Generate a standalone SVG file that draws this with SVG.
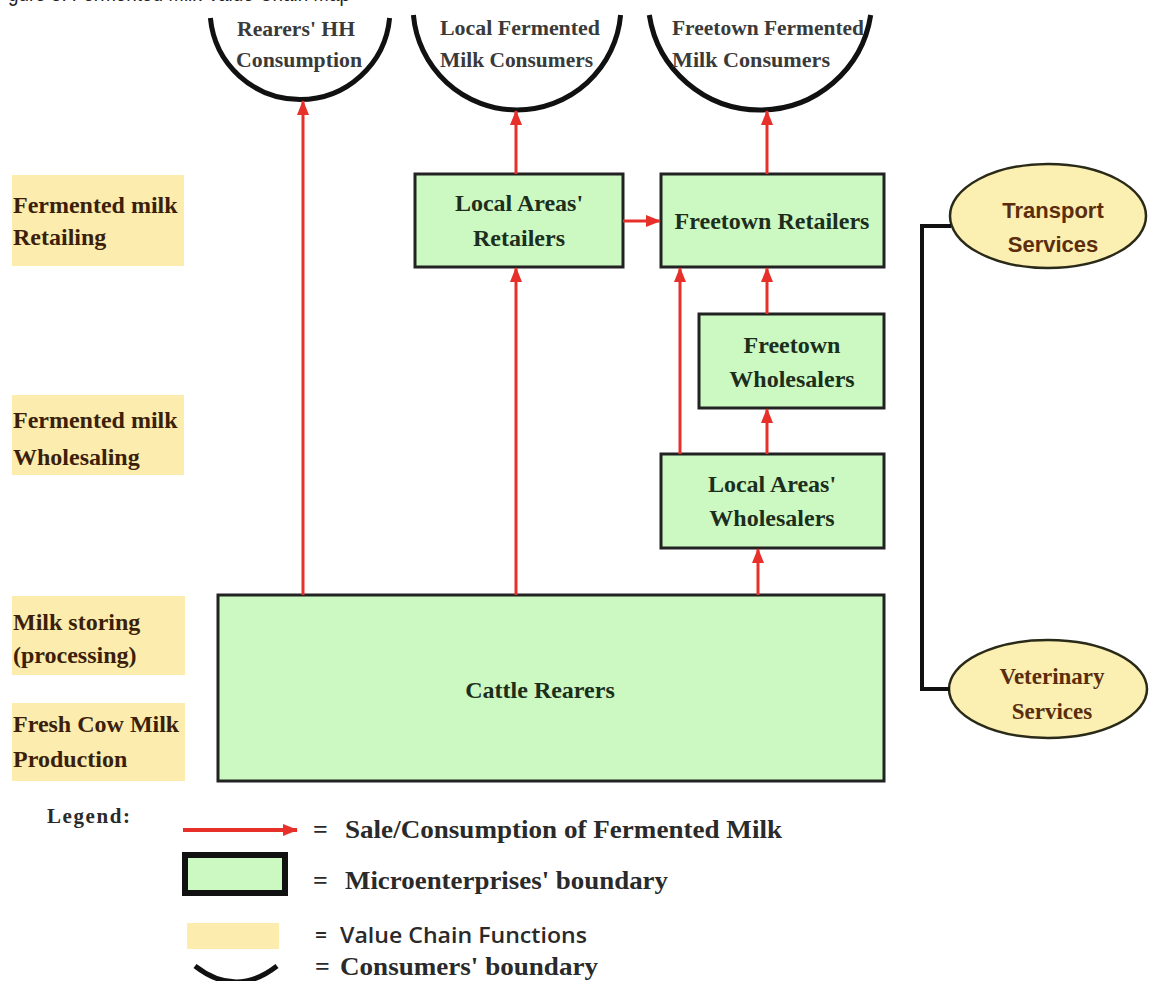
<svg xmlns="http://www.w3.org/2000/svg" width="1151" height="981" viewBox="0 0 1151 981">
<defs>
<marker id="ah" markerUnits="userSpaceOnUse" markerWidth="15" markerHeight="15" viewBox="0 0 15 15" refX="14" refY="7.5" orient="auto">
<path d="M0,1.5 L15,7.5 L0,13.5 Z" fill="#e8302a"/>
</marker>
<style>
.bg{fill:#ffffff}
.cons{fill:none;stroke:#111;stroke-width:5}
.ct{font-family:"Liberation Serif",serif;font-weight:bold;font-size:21.5px;fill:#3a3a3a}
.box{fill:#ccf8c2;stroke:#222;stroke-width:3}
.bt{font-family:"Liberation Serif",serif;font-weight:bold;font-size:24px;fill:#1c2e1c;text-anchor:middle}
.fn{fill:#fcecae}
.ft{font-family:"Liberation Serif",serif;font-weight:bold;font-size:24px;fill:#3b1f0a}
.svc{fill:#fcefb2;stroke:#2a2a18;stroke-width:2.5}
.st{font-family:"Liberation Sans",sans-serif;font-weight:bold;font-size:22px;fill:#5a2d0c;text-anchor:middle}
.st2{font-family:"Liberation Serif",serif;font-weight:bold;font-size:23px;fill:#5a2d0c;text-anchor:middle}
.flow{fill:none;stroke:#e8302a;stroke-width:3;marker-end:url(#ah)}
.link{fill:none;stroke:#111;stroke-width:4}
.lt{font-family:"Liberation Serif",serif;font-weight:bold;font-size:26px;fill:#2a2a2a}
.ls{font-family:"Open Sans","Liberation Sans",sans-serif;font-weight:600;font-size:21px;fill:#2a2a2a}
</style>
</defs>
<rect class="bg" x="0" y="0" width="1151" height="981"/>
<text x="8" y="1" font-family="Liberation Sans, sans-serif" font-size="22" fill="#222" textLength="342" lengthAdjust="spacingAndGlyphs">gure 3: Fermented Milk Value Chain Map</text>

<g id="consumer-rearers-hh">
<path class="cons" d="M210.4,18 A90,90 0 0 0 389.6,18"/>
<text class="ct" x="237" y="36" textLength="118" lengthAdjust="spacingAndGlyphs">Rearers' HH</text>
<text class="ct" x="236" y="67" textLength="126" lengthAdjust="spacingAndGlyphs">Consumption</text>
</g>
<g id="consumer-local">
<path class="cons" d="M413.4,15 A104,104 0 0 0 620.6,15"/>
<text class="ct" x="440" y="35" textLength="160" lengthAdjust="spacingAndGlyphs">Local Fermented</text>
<text class="ct" x="440" y="67" textLength="153" lengthAdjust="spacingAndGlyphs">Milk Consumers</text>
</g>
<g id="consumer-freetown">
<path class="cons" d="M649.3,15 A112,112 0 0 0 870.7,15"/>
<text class="ct" x="672" y="35" textLength="192" lengthAdjust="spacingAndGlyphs">Freetown Fermented</text>
<text class="ct" x="672" y="67" textLength="158" lengthAdjust="spacingAndGlyphs">Milk Consumers</text>
</g>

<g id="fn-retailing">
<rect class="fn" x="12" y="175" width="172" height="91"/>
<text class="ft" x="13" y="213">Fermented milk</text>
<text class="ft" x="13" y="245">Retailing</text>
</g>
<g id="fn-wholesaling">
<rect class="fn" x="12" y="395" width="172" height="80"/>
<text class="ft" x="13" y="428">Fermented milk</text>
<text class="ft" x="13" y="465">Wholesaling</text>
</g>
<g id="fn-storing">
<rect class="fn" x="12" y="596" width="173" height="79"/>
<text class="ft" x="13" y="630">Milk storing</text>
<text class="ft" x="13" y="663">(processing)</text>
</g>
<g id="fn-production">
<rect class="fn" x="12" y="703" width="173" height="78"/>
<text class="ft" x="13" y="732">Fresh Cow Milk</text>
<text class="ft" x="13" y="767">Production</text>
</g>

<g id="local-retailers">
<rect class="box" x="415" y="174" width="208" height="93"/>
<text class="bt" x="519" y="211">Local Areas'</text>
<text class="bt" x="519" y="246">Retailers</text>
</g>
<g id="freetown-retailers">
<rect class="box" x="661" y="174" width="223" height="93"/>
<text class="bt" x="772" y="229">Freetown Retailers</text>
</g>
<g id="freetown-wholesalers">
<rect class="box" x="699" y="314" width="185" height="94"/>
<text class="bt" x="792" y="353">Freetown</text>
<text class="bt" x="792" y="387">Wholesalers</text>
</g>
<g id="local-wholesalers">
<rect class="box" x="661" y="454" width="223" height="94"/>
<text class="bt" x="772" y="492">Local Areas'</text>
<text class="bt" x="772" y="526">Wholesalers</text>
</g>
<g id="cattle-rearers">
<rect class="box" x="218" y="595" width="666" height="186"/>
<text class="bt" x="540" y="698">Cattle Rearers</text>
</g>

<g id="transport-services">
<ellipse class="svc" cx="1048" cy="216" rx="98" ry="52"/>
<text class="st" x="1053" y="218">Transport</text>
<text class="st" x="1053" y="252">Services</text>
</g>
<g id="veterinary-services">
<ellipse class="svc" cx="1048" cy="689" rx="99" ry="49"/>
<text class="st2" x="1052" y="684">Veterinary</text>
<text class="st2" x="1052" y="719">Services</text>
</g>

<g id="connectors">
<line class="flow" x1="303" y1="595" x2="303" y2="101"/>
<line class="flow" x1="516" y1="595" x2="516" y2="268"/>
<line class="flow" x1="758" y1="595" x2="758" y2="549"/>
<line class="flow" x1="516" y1="174" x2="516" y2="111"/>
<line class="flow" x1="767" y1="174" x2="767" y2="111"/>
<line class="flow" x1="623" y1="221" x2="660" y2="221"/>
<line class="flow" x1="680" y1="454" x2="680" y2="268"/>
<line class="flow" x1="767" y1="454" x2="767" y2="409"/>
<line class="flow" x1="767" y1="314" x2="767" y2="268"/>
<path class="link" d="M951,226 H922 V689 H950"/>
</g>

<g id="legend">
<text x="47" y="823" font-family="Liberation Serif, serif" font-weight="bold" font-size="21" fill="#2a2a2a" textLength="83" lengthAdjust="spacing">Legend:</text>
<line x1="183" y1="830" x2="297" y2="830" stroke="#e8302a" stroke-width="4" marker-end="url(#ah)"/>
<text class="lt" x="313" y="838">=</text>
<text class="lt" x="345" y="838" textLength="437" lengthAdjust="spacingAndGlyphs">Sale/Consumption of Fermented Milk</text>
<rect x="185" y="855" width="100" height="38" fill="#ccf8c2" stroke="#111" stroke-width="6"/>
<text class="lt" x="313" y="889">=</text>
<text class="lt" x="345" y="889" textLength="323" lengthAdjust="spacingAndGlyphs">Microenterprises' boundary</text>
<rect x="187" y="923" width="92" height="26" fill="#fcecae"/>
<text class="ls" x="315" y="943">=</text>
<text class="ls" x="340" y="943" textLength="247" lengthAdjust="spacingAndGlyphs">Value Chain Functions</text>
<path d="M195,966 Q236,998 277,966" fill="none" stroke="#111" stroke-width="5"/>
<text class="lt" x="315" y="975">=</text>
<text class="lt" x="340" y="975" textLength="258" lengthAdjust="spacingAndGlyphs">Consumers' boundary</text>
</g>
</svg>
